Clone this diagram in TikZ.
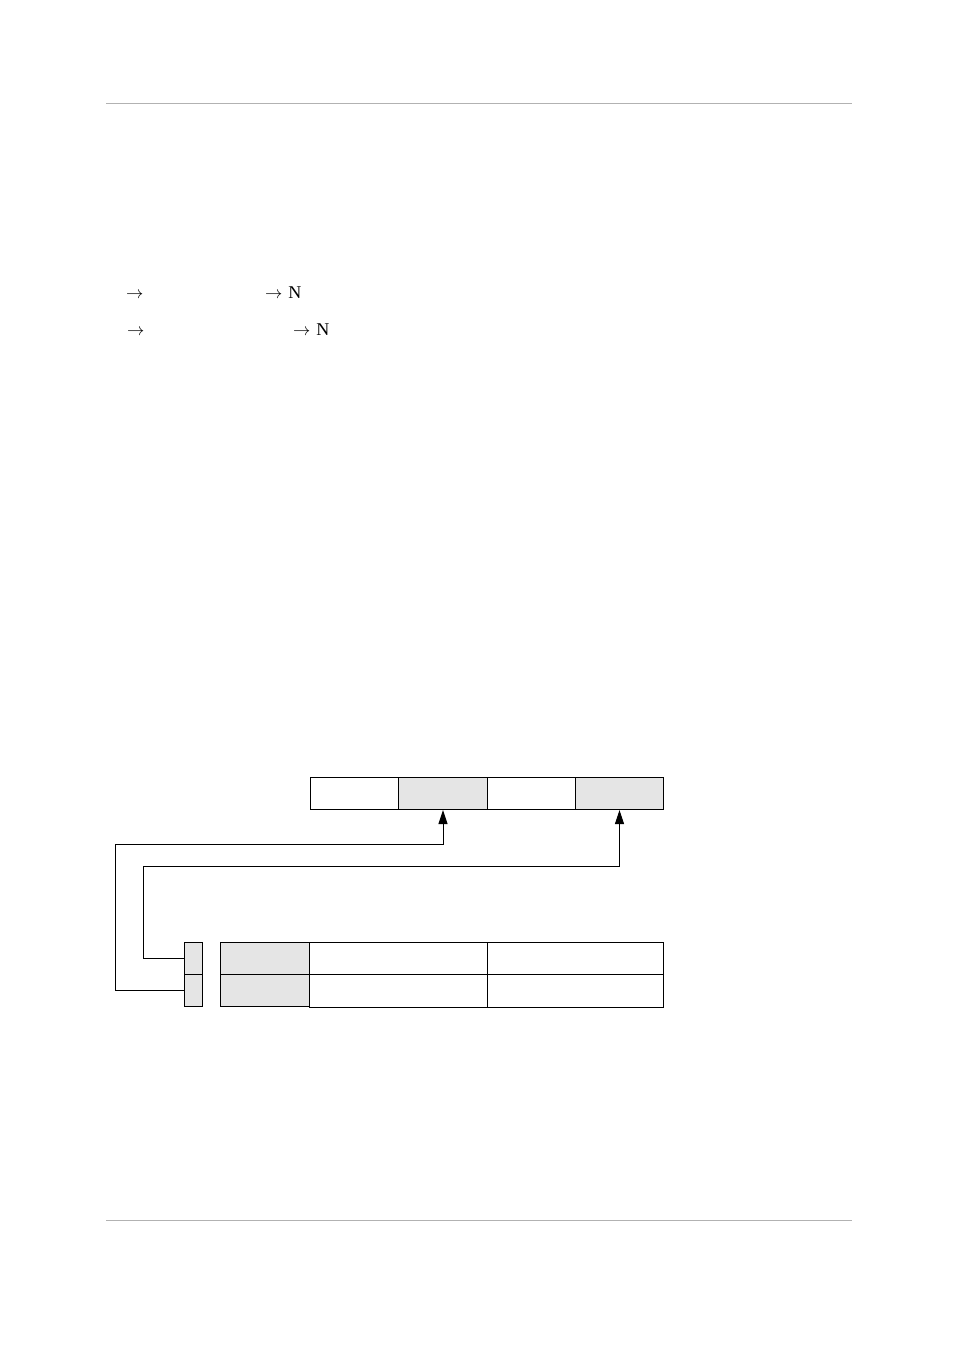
\documentclass[tikz,border=0pt]{standalone}
\usepackage{fontspec}
\setmainfont{Liberation Serif}
\usetikzlibrary{arrows.meta}
\begin{document}
\begin{tikzpicture}[x=1pt,y=-1pt,
  cell/.style={draw=black,line width=1pt,minimum height=32pt,inner sep=0pt,anchor=north west},
  shade/.style={fill=black!10},
  rule/.style={draw=black!30,line width=1pt},
  link/.style={draw=black,line width=1pt,-{Triangle[length=14pt,width=9pt]}},
  txt/.style={font=\fontsize{18}{20}\selectfont,inner sep=0pt,anchor=base west}]
\useasboundingbox[fill=white] (0,0) rectangle (954,1351);
\coordinate (h1) at (106,104); \coordinate (h2) at (852,104);
\coordinate (f1) at (106,1220); \coordinate (f2) at (852,1220);
\draw[rule] (h1) -- (h2);
\draw[rule] (f1) -- (f2);
% text
\node[txt] (t1) at (126,298) {$\rightarrow$};
\node[txt] (t2) at (265,298) {$\rightarrow$\,\,N};
\node[txt] (t3) at (127,335) {$\rightarrow$};
\node[txt] (t4) at (293,335) {$\rightarrow$\,\,N};
% top row
\node[cell,minimum width=88pt] (a1) at (310,777) {};
\node[cell,shade,minimum width=89pt] (a2) at (398,777) {};
\node[cell,minimum width=88pt] (a3) at (487,777) {};
\node[cell,shade,minimum width=88pt] (a4) at (575,777) {};
% small column
\node[cell,shade,minimum width=18pt] (s1) at (184,942) {};
\node[cell,shade,minimum width=18pt] (s2) at (184,974) {};
% table
\node[cell,shade,minimum width=89pt] (g1) at (220,942) {};
\node[cell,shade,minimum width=89pt] (g2) at (220,974) {};
\node[cell,minimum width=178pt] (w1) at (309,942) {};
\node[cell,minimum width=176pt] (w2) at (487,942) {};
\node[cell,minimum width=178pt,minimum height=33pt] (w3) at (309,974) {};
\node[cell,minimum width=176pt,minimum height=33pt] (w4) at (487,974) {};
% connectors
\coordinate (c1) at (115,844);
\coordinate (c2) at (143,866);
\draw[link] (s2.west) -| (c1) -| (a2.south);
\draw[link] (s1.west) -| (c2) -| (a4.south);
\end{tikzpicture}
\end{document}
